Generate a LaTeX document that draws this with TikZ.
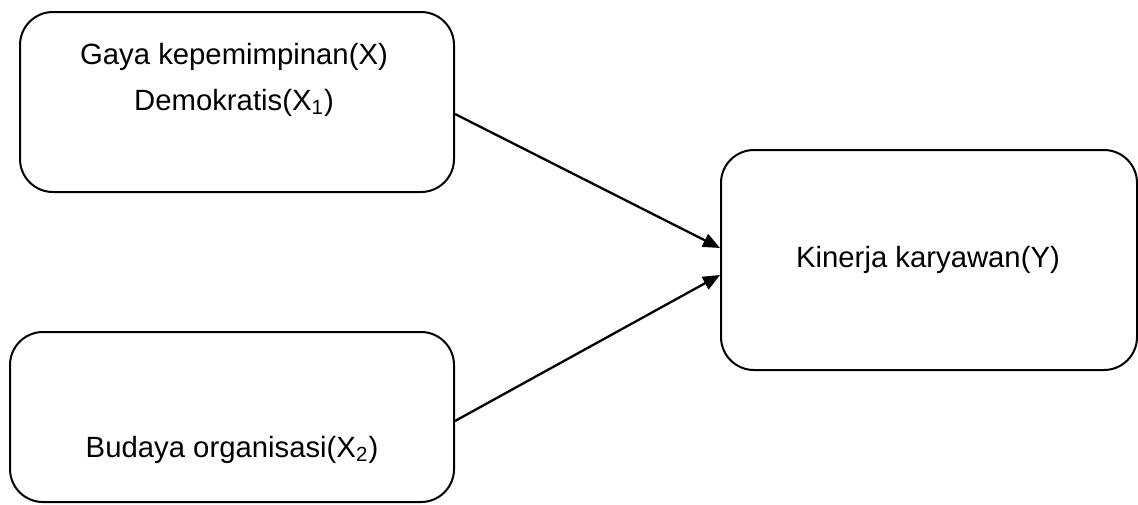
\documentclass[tikz,border=0pt]{standalone}
\usepackage{fontspec}
\setmainfont{Liberation Sans}
\usetikzlibrary{arrows.meta}
\begin{document}
\begin{tikzpicture}[x=0.5pt,y=-0.5pt,
  box/.style={draw=black,line width=1pt,rounded corners=16.5pt,minimum width=#1,inner sep=0pt},
  lbl/.style={anchor=base,inner sep=0pt,font=\fontsize{14.65pt}{17pt}\selectfont},
  conn/.style={line width=1.15pt,-{Triangle[length=8.5pt,width=7pt]}}]
\useasboundingbox (0,0) rectangle (1138,504);
\node[box=217pt,minimum height=90pt] (b1) at (237,102) {};
\node[box=222pt,minimum height=85pt] (b2) at (232,417) {};
\node[box=208pt,minimum height=110pt] (b3) at (929,260) {};
\node[lbl] (t1) at (234,64) {Gaya kepemimpinan(X)};
\node[lbl] (t2) at (234,110) {Demokratis(X\textsubscript{1})};
\node[lbl] (t3) at (232,457) {Budaya organisasi(X\textsubscript{2})};
\node[lbl] (t4) at (928,267) {Kinerja karyawan(Y)};
\draw[conn] ([yshift=-6pt]b1.east) -- ([yshift=6pt]b3.west);
\draw[conn] ([yshift=-2pt]b2.east) -- ([yshift=-7.5pt]b3.west);
\end{tikzpicture}
\end{document}
